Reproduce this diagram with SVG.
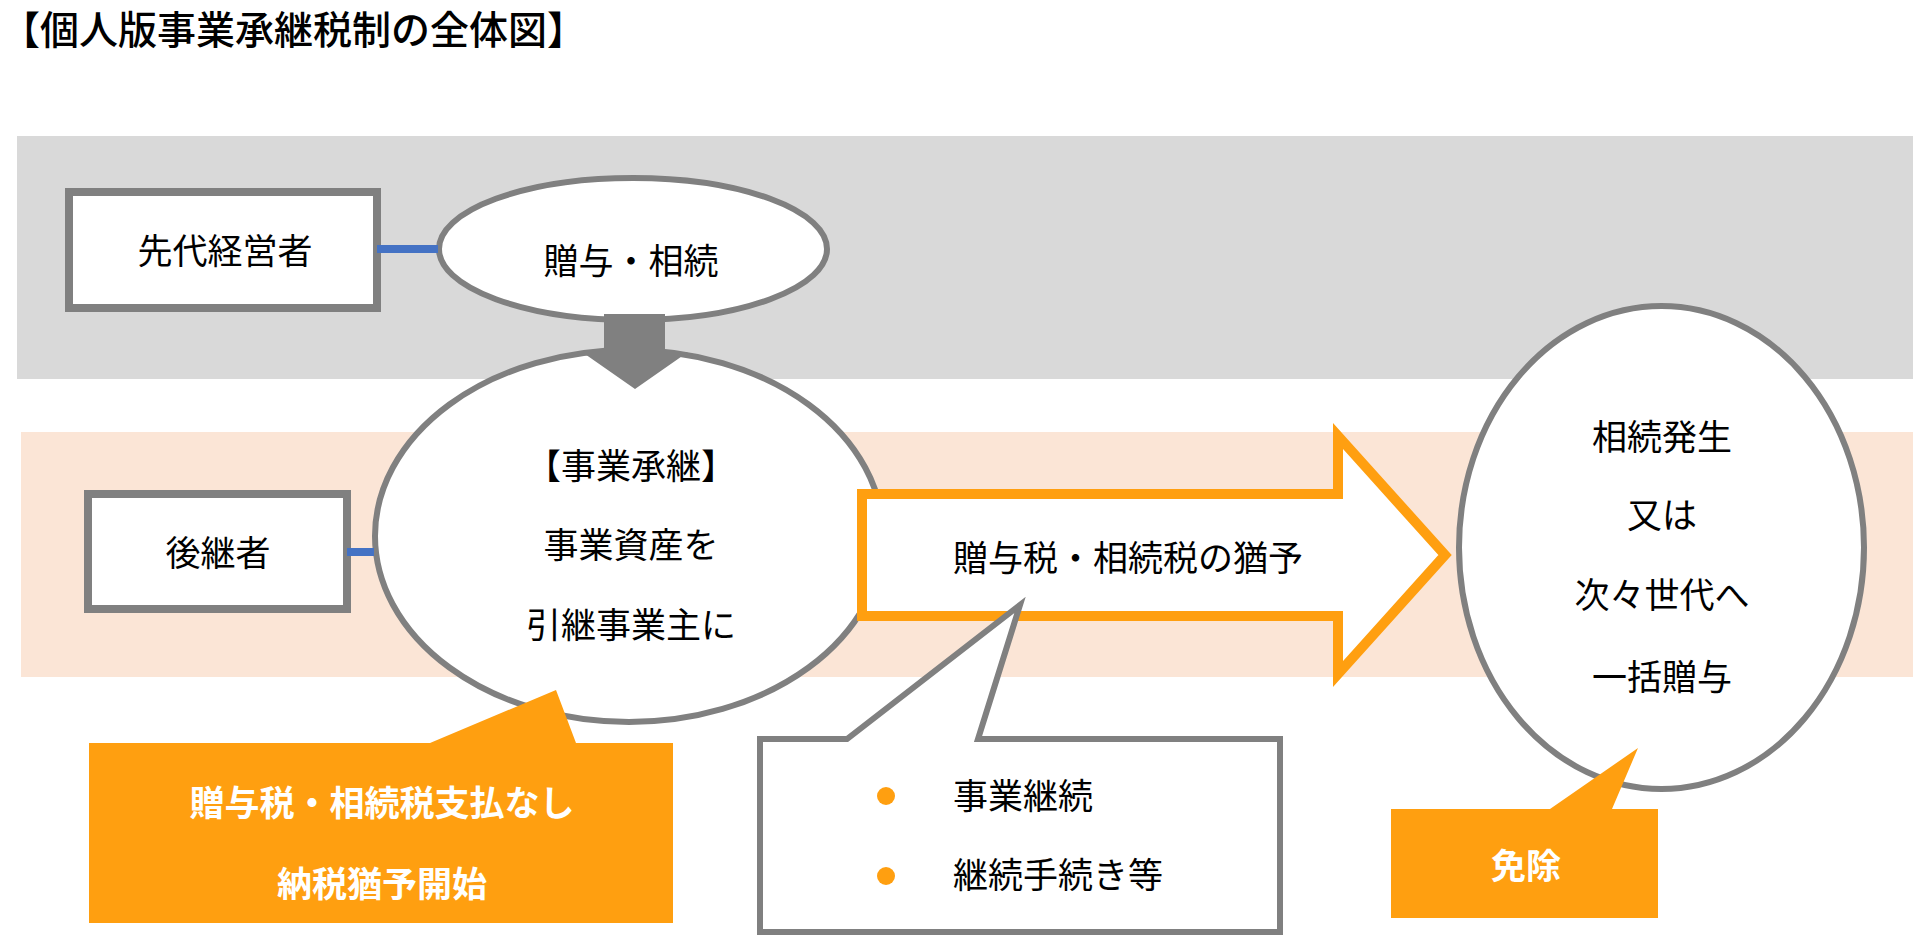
<svg xmlns="http://www.w3.org/2000/svg" width="1931" height="951" viewBox="0 0 1931 951">
<style>
text { font-family: "Noto Sans CJK JP", "Noto Sans CJK SC", sans-serif; }
.t { font-size: 35px; fill: #000; text-anchor: middle; }
.tl { font-size: 35px; fill: #000; }
.w { font-size: 35px; fill: #fff; font-weight: 700; text-anchor: middle; }
.box { fill: #fff; stroke: #808080; stroke-width: 8; }
.ell { fill: #fff; stroke: #808080; stroke-width: 6; }
.or { fill: #FF9F10; }
.blue { stroke: #4472C4; stroke-width: 8; }
</style>
<rect width="1931" height="951" fill="#fff"/>
<text x="1" y="44" font-size="39" font-weight="500" fill="#000">【個人版事業承継税制の全体図】</text>
<rect x="17" y="136" width="1896" height="243" fill="#D9D9D9"/>
<rect x="21" y="432" width="1892" height="245" fill="#FBE5D6"/>

<g id="senpai">
<rect class="box" x="69" y="192" width="308" height="116"/>
<text class="t" x="225" y="264">先代経営者</text>
</g>
<g id="zoyo-souzoku">
<ellipse class="ell" cx="633" cy="249" rx="194" ry="71"/>
<text class="t" x="631" y="274">贈与・相続</text>
</g>
<g id="koukeisha">
<rect class="box" x="88" y="494" width="259" height="115"/>
<text class="t" x="218" y="566">後継者</text>
</g>
<g id="jigyo-shokei">
<ellipse class="ell" cx="629" cy="536" rx="254" ry="186"/>
<text class="t" x="631" y="479">【事業承継】</text>
<text class="t" x="631" y="558">事業資産を</text>
<text class="t" x="631" y="638">引継事業主に</text>
</g>
<g id="souzoku-hassei">
<ellipse class="ell" cx="1661.5" cy="547.5" rx="202.5" ry="241.5"/>
<text class="t" x="1662" y="450">相続発生</text>
<text class="t" x="1662" y="528">又は</text>
<text class="t" x="1662" y="608">次々世代へ</text>
<text class="t" x="1662" y="690">一括贈与</text>
</g>
<g id="yuyo-arrow">
<polygon points="862,494 1338,494 1338,436 1445,555 1338,674 1338,616 862,616" fill="#fff" stroke="#FF9F10" stroke-width="10"/>
<text class="t" x="1128" y="571">贈与税・相続税の猶予</text>
</g>

<g id="connectors">
<line class="blue" x1="377" y1="249" x2="438" y2="249"/>
<line class="blue" x1="347" y1="552" x2="374" y2="552"/>
<polygon points="604,314 665,314 665,352 688,352 635,389 582,352 604,352" fill="#808080"/>
</g>

<g id="callout-nashi">
<path class="or" d="M89,743 H430 L556,690 L576,743 H673 V923 H89 Z"/>
<text class="w" x="382" y="816">贈与税・相続税支払なし</text>
<text class="w" x="382" y="897">納税猶予開始</text>
</g>
<g id="callout-keizoku">
<path d="M760,739 H847 L1020,605 L978,739 H1280 V932 H760 Z" fill="#fff" stroke="#808080" stroke-width="6"/>
<circle class="or" cx="886" cy="796" r="9"/>
<circle class="or" cx="886" cy="876" r="9"/>
<text class="tl" x="953" y="809">事業継続</text>
<text class="tl" x="953" y="888">継続手続き等</text>
</g>
<g id="callout-menjo">
<path class="or" d="M1391,809 H1550 L1638,748 L1612,809 H1658 V918 H1391 Z"/>
<text class="w" x="1526" y="879">免除</text>
</g>
</svg>
